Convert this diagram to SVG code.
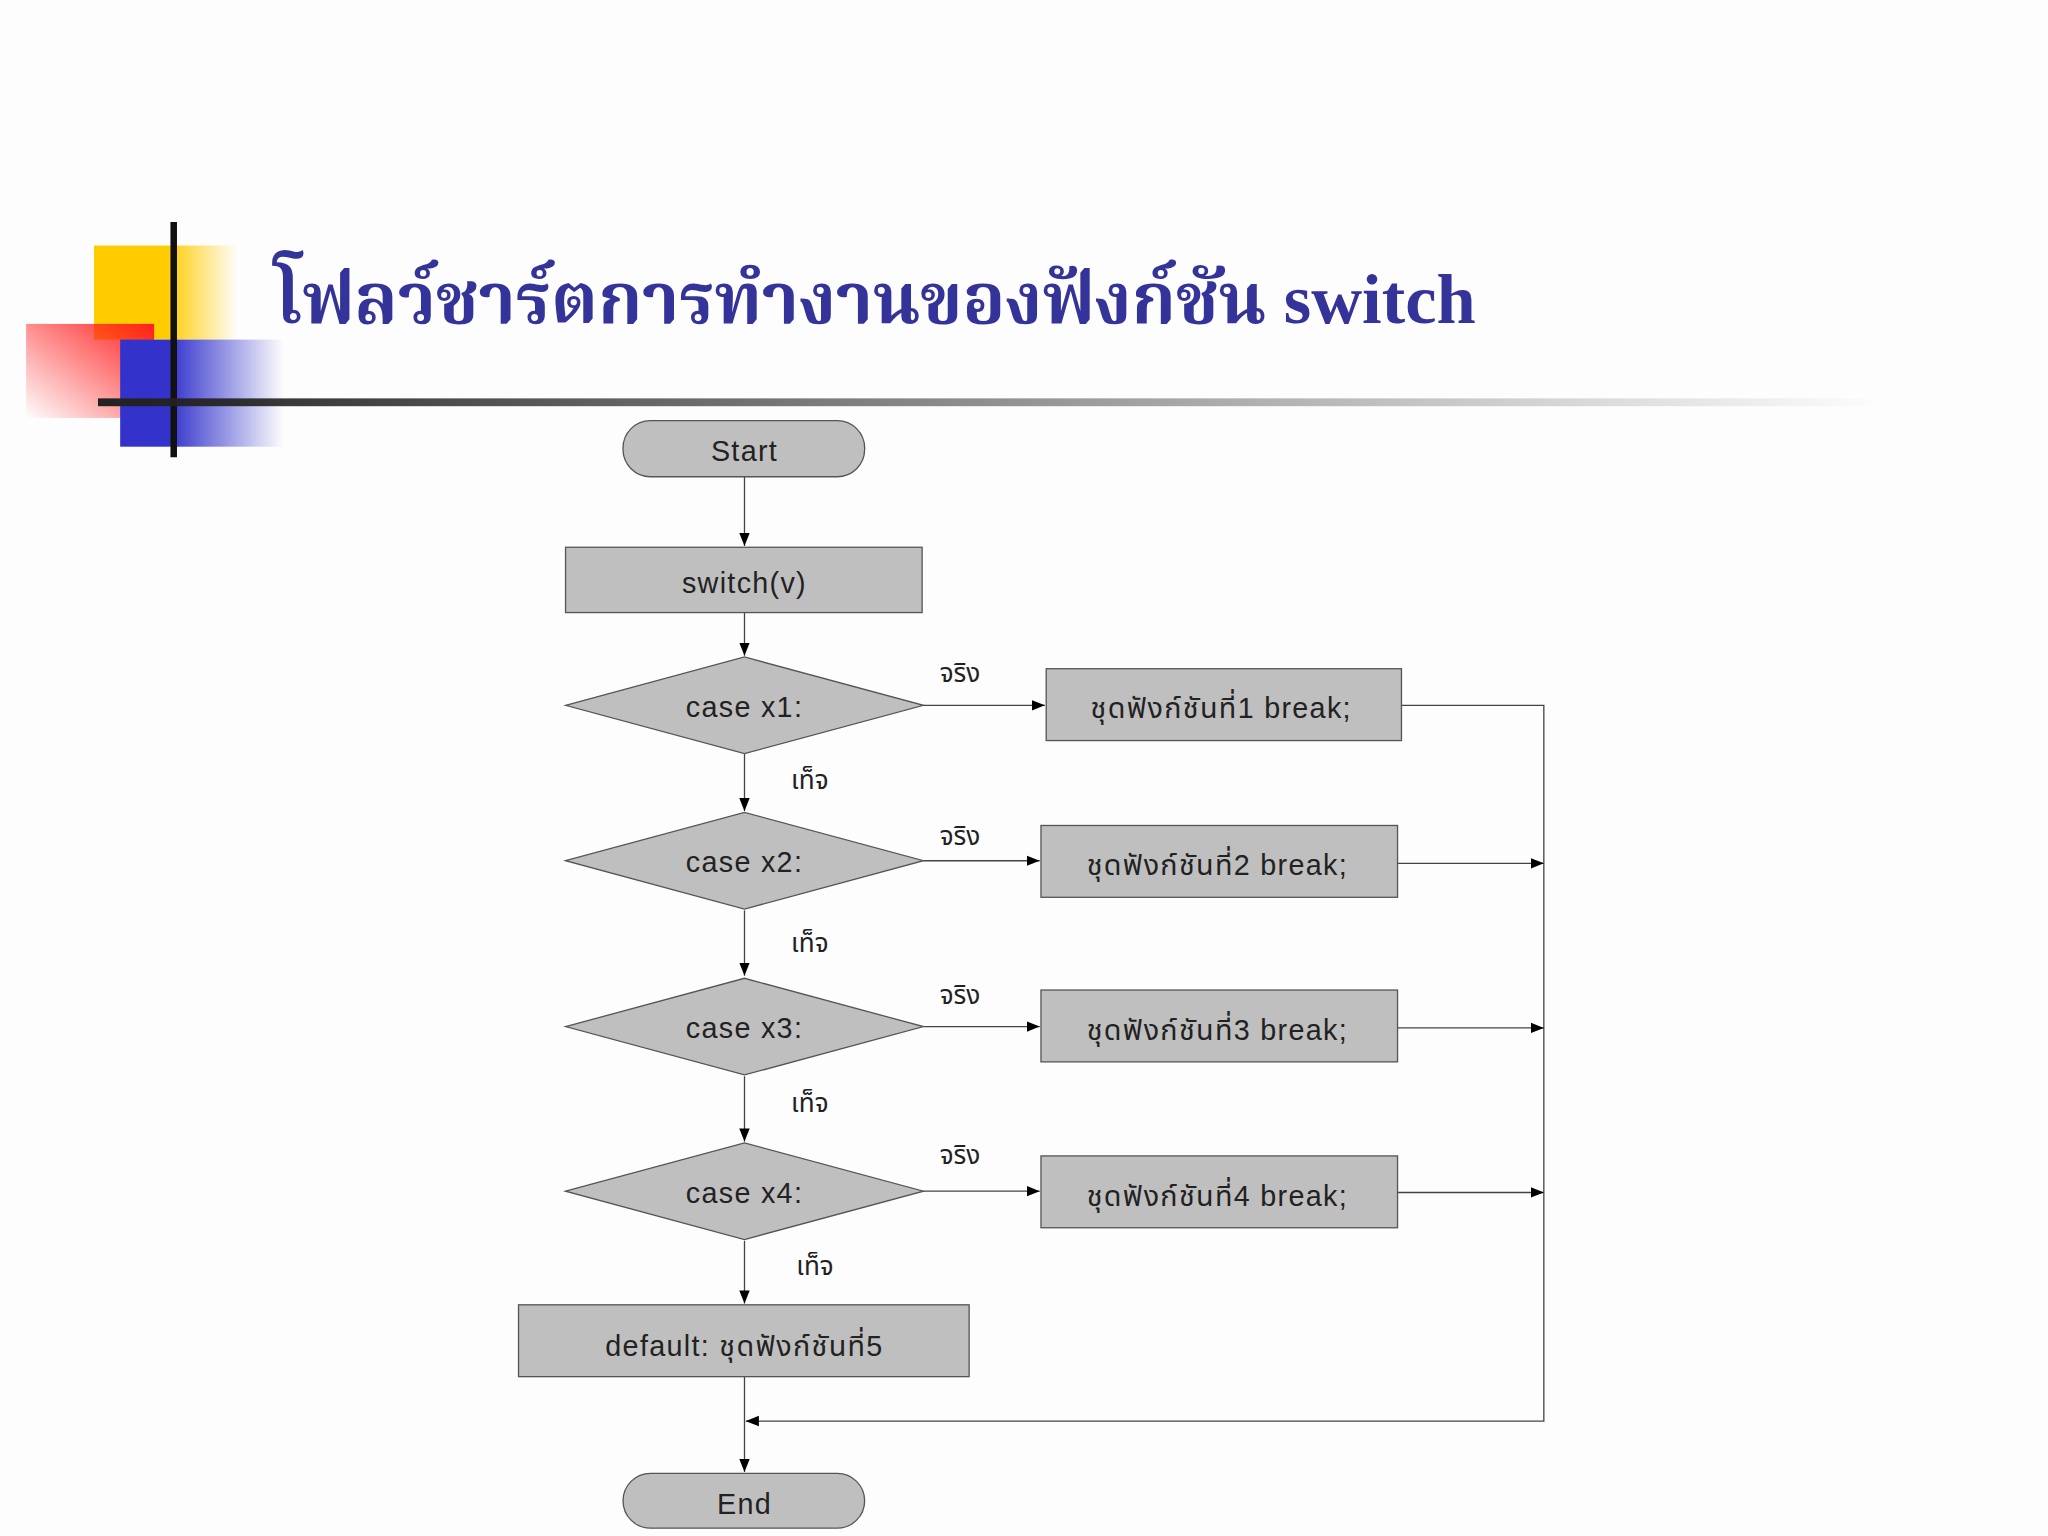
<svg xmlns="http://www.w3.org/2000/svg" width="2048" height="1536" viewBox="0 0 2048 1536">
<defs>
<linearGradient id="gy" x1="0" x2="1"><stop offset="0.5" stop-color="#ffcc00"/><stop offset="1" stop-color="#ffcc00" stop-opacity="0"/></linearGradient>
<linearGradient id="gr" x1="1" x2="0" y1="0" y2="1"><stop offset="0" stop-color="#ff2020"/><stop offset="1" stop-color="#ff2020" stop-opacity="0"/></linearGradient>
<linearGradient id="gb" x1="0" x2="1"><stop offset="0.3" stop-color="#3333cc"/><stop offset="1" stop-color="#3333cc" stop-opacity="0"/></linearGradient>
<linearGradient id="gl" x1="0" x2="1"><stop offset="0" stop-color="#222"/><stop offset="1" stop-color="#222" stop-opacity="0"/></linearGradient>
<marker id="ar" viewBox="0 0 10 10" refX="10" refY="5" markerWidth="10" markerHeight="10" markerUnits="userSpaceOnUse" orient="auto"><path d="M0,1 L10,5 L0,9 z" fill="#000"/></marker>
<style>
.n{fill:#c0bfc0;stroke:#555;stroke-width:1}
.t{font-family:"Liberation Sans","Noto Sans Thai","Noto Sans",sans-serif;font-size:22px;fill:#222;text-anchor:middle;letter-spacing:1px}
.l{font-family:"Noto Sans Thai","Liberation Sans",sans-serif;font-size:20px;fill:#222;text-anchor:middle}
.c{stroke:#444;stroke-width:1;fill:none}
.a{marker-end:url(#ar)}
</style>
</defs>
<rect width="2048" height="1536" fill="#fdfdfd"/>
<g transform="scale(1.30612)">
<g id="deco">
<rect x="72" y="188" width="110" height="72" fill="url(#gy)"/>
<rect x="20" y="248" width="98" height="72" fill="url(#gr)"/>
<rect x="92" y="260" width="125" height="82" fill="url(#gb)"/>
<line x1="133" y1="170" x2="133" y2="350" stroke="#111" stroke-width="5"/>
<rect x="75" y="305" width="1365" height="6" fill="url(#gl)"/>
</g>
<text id="title" x="210" y="247" font-family="'Liberation Serif','Noto Serif Thai','Noto Sans Thai',serif" font-weight="bold" font-size="54" fill="#333399">โฟลว์ชาร์ตการทำงานของฟังก์ชัน switch</text>
<g id="connectors">
<line class="c a" x1="570" y1="365" x2="570" y2="418"/>
<line class="c a" x1="570" y1="469" x2="570" y2="502"/>
<line class="c a" x1="570" y1="577" x2="570" y2="621"/>
<line class="c a" x1="570" y1="697" x2="570" y2="747"/>
<line class="c a" x1="570" y1="824" x2="570" y2="874"/>
<line class="c a" x1="570" y1="950" x2="570" y2="998"/>
<line class="c a" x1="570" y1="1054" x2="570" y2="1127"/>
<line class="c a" x1="707" y1="540" x2="800" y2="540"/>
<line class="c a" x1="707" y1="659" x2="796" y2="659"/>
<line class="c a" x1="707" y1="786" x2="796" y2="786"/>
<line class="c a" x1="707" y1="912" x2="796" y2="912"/>
<polyline class="c a" points="1073,540 1182,540 1182,1088 571,1088"/>
<line class="c a" x1="1070" y1="661" x2="1182" y2="661"/>
<line class="c a" x1="1070" y1="787" x2="1182" y2="787"/>
<line class="c a" x1="1070" y1="913" x2="1182" y2="913"/>
<text class="l" x="735" y="522">จริง</text>
<text class="l" x="735" y="647">จริง</text>
<text class="l" x="735" y="769">จริง</text>
<text class="l" x="735" y="891">จริง</text>
<text class="l" x="620" y="604">เท็จ</text>
<text class="l" x="620" y="729">เท็จ</text>
<text class="l" x="620" y="851">เท็จ</text>
<text class="l" x="624" y="976">เท็จ</text>
</g>
<g id="start"><rect class="n" x="477" y="322" width="185" height="43" rx="21"/><text class="t" x="570" y="353">Start</text></g>
<g id="switch"><rect class="n" x="433" y="419" width="273" height="50"/><text class="t" x="570" y="454">switch(v)</text></g>
<g id="d1"><polygon class="n" points="433,540 570,503 707,540 570,577"/><text class="t" x="570" y="549" font-size="20">case x1:</text></g>
<g id="d2"><polygon class="n" points="433,659 570,622 707,659 570,696"/><text class="t" x="570" y="668">case x2:</text></g>
<g id="d3"><polygon class="n" points="433,786 570,749 707,786 570,823"/><text class="t" x="570" y="795">case x3:</text></g>
<g id="d4"><polygon class="n" points="433,912 570,875 707,912 570,949"/><text class="t" x="570" y="921">case x4:</text></g>
<g id="b1"><rect class="n" x="801" y="512" width="272" height="55"/><text class="t" x="935" y="550">ชุดฟังก์ชันที่1 break;</text></g>
<g id="b2"><rect class="n" x="797" y="632" width="273" height="55"/><text class="t" x="932" y="670">ชุดฟังก์ชันที่2 break;</text></g>
<g id="b3"><rect class="n" x="797" y="758" width="273" height="55"/><text class="t" x="932" y="796">ชุดฟังก์ชันที่3 break;</text></g>
<g id="b4"><rect class="n" x="797" y="885" width="273" height="55"/><text class="t" x="932" y="923">ชุดฟังก์ชันที่4 break;</text></g>
<g id="default"><rect class="n" x="397" y="999" width="345" height="55"/><text class="t" x="570" y="1038">default: ชุดฟังก์ชันที่5</text></g>
<g id="end"><rect class="n" x="477" y="1128" width="185" height="42" rx="21"/><text class="t" x="570" y="1159">End</text></g>
</g>
</svg>
